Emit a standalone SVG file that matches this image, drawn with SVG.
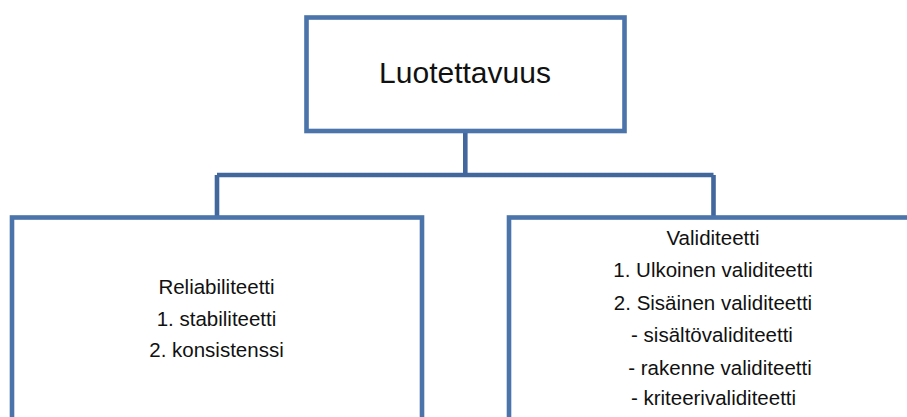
<svg xmlns="http://www.w3.org/2000/svg" width="907" height="417" viewBox="0 0 907 417">
<style>
.box{fill:#fff;stroke:#4A74AA;stroke-width:4.6}
.con{fill:none;stroke:#41679C;stroke-width:4.6}
text{font-family:"Liberation Sans",Arial,sans-serif;fill:#111;text-anchor:middle}
.t{font-size:30px}
.s{font-size:20.5px}
</style>
<rect width="907" height="417" fill="#fff"/>
<g id="connectors">
<path class="con" d="M465.3 131V175M217 175H713.5M217 175V218M713.5 175V218"/>
</g>
<g id="root">
<rect class="box" x="306.5" y="17.5" width="318" height="113.5"/>
<text class="t" x="465" y="83">Luotettavuus</text>
</g>
<g id="reliabiliteetti">
<rect class="box" x="12" y="217.5" width="410" height="230"/>
<text class="s" x="216.5" y="294">Reliabiliteetti</text>
<text class="s" x="216.5" y="326">1. stabiliteetti</text>
<text class="s" x="216.5" y="357">2. konsistenssi</text>
</g>
<g id="validiteetti">
<rect class="box" x="509" y="217.5" width="430" height="230"/>
<text class="s" x="713" y="245">Validiteetti</text>
<text class="s" x="713" y="277">1. Ulkoinen validiteetti</text>
<text class="s" x="713" y="310">2. Sisäinen validiteetti</text>
<text class="s" x="712" y="342">- sisältövaliditeetti</text>
<text class="s" x="720" y="375">- rakenne validiteetti</text>
<text class="s" x="713.5" y="405">- kriteerivaliditeetti</text>
</g>
</svg>
